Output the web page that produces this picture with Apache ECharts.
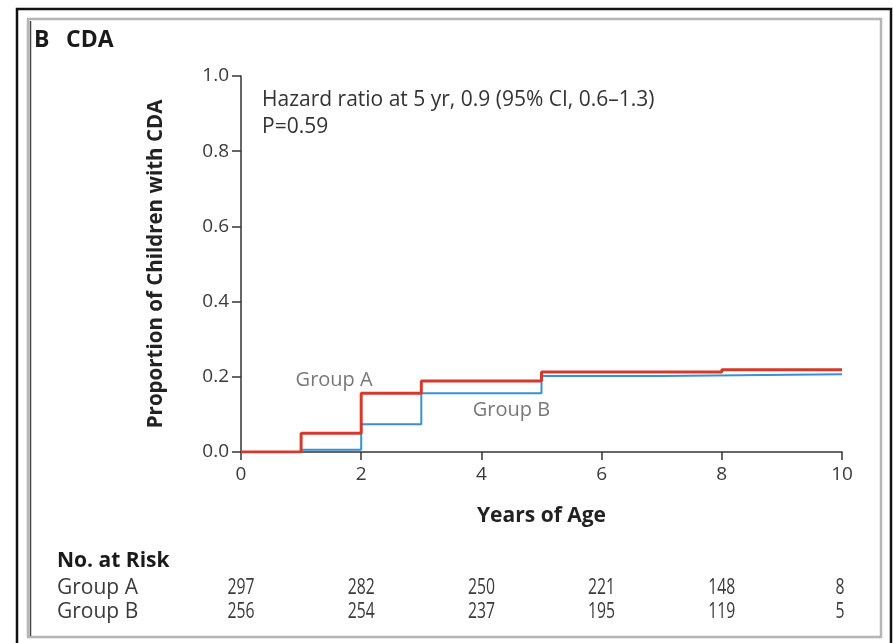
<!DOCTYPE html>
<html>
<head>
<meta charset="utf-8">
<script src="https://cdn.jsdelivr.net/npm/echarts@6/dist/echarts.min.js"></script>
<style>
html,body{margin:0;padding:0;background:#fff;}
#c{width:893px;height:643px;}
</style>
</head>
<body>
<div id="c"></div>
<script>
// ---- Data ----
const timesA = [0, 1, 2, 3, 5, 8, 10];
const valuesA = [0, 0.05, 0.156, 0.189, 0.213, 0.219, 0.219];
const timesB = [0, 1, 2, 3, 5, 7, 10];
const valuesB = [0, 0.006, 0.074, 0.156, 0.202, 0.207, 0.207];
const riskYears = [0, 2, 4, 6, 8, 10];
const riskA = [297, 282, 250, 221, 148, 8];
const riskB = [256, 254, 237, 195, 119, 5];
const groupNames = ['Group A', 'Group B'];
const yTicks = [0, 0.2, 0.4, 0.6, 0.8, 1.0];
const xTicks = [0, 2, 4, 6, 8, 10];

const FONT = '"Open Sans", "Noto Sans", sans-serif';
const RED = '#d33a2c';
const BLUE = '#3b8fd4';
const TXT = '#3a3a3a';

const chart = echarts.init(document.getElementById('c'), null, {renderer: 'canvas'});

function pairs(t, v) { return t.map((x, i) => [x, v[i]]); }

const option = {
  backgroundColor: '#ffffff',
  animation: false,
  grid: {left: 241, right: 51, top: 76, bottom: 191, containLabel: false},
  xAxis: {
    type: 'value', min: xTicks[0], max: xTicks[xTicks.length - 1], interval: 2,
    name: 'Years of Age', nameLocation: 'middle', nameGap: 54,
    nameTextStyle: {fontFamily: FONT, fontWeight: 'bold', fontSize: 21, color: '#222'},
    axisLine: {show: true, lineStyle: {color: '#333', width: 1.5}},
    axisTick: {show: true, length: 8, lineStyle: {color: '#333', width: 1.5}},
    axisLabel: {fontFamily: FONT, fontSize: 19, color: TXT, margin: 13},
    splitLine: {show: false}
  },
  yAxis: {
    type: 'value', min: yTicks[0], max: yTicks[yTicks.length - 1], interval: 0.2,
    name: 'Proportion of Children with CDA', nameLocation: 'middle', nameGap: 74,
    nameTextStyle: {fontFamily: FONT, fontWeight: 'bold', fontSize: 20.5, color: '#222'},
    axisLine: {show: true, lineStyle: {color: '#333', width: 1.5}},
    axisTick: {show: true, length: 9, lineStyle: {color: '#333', width: 1.5}},
    axisLabel: {fontFamily: FONT, fontSize: 19, color: TXT, margin: 12,
      formatter: v => v.toFixed(1)},
    splitLine: {show: false}
  },
  series: [
    {
      name: groupNames[1], type: 'line', step: 'end', symbol: 'none',
      data: pairs(timesB, valuesB),
      lineStyle: {color: BLUE, width: 2}, z: 2
    },
    {
      name: groupNames[0], type: 'line', step: 'end', symbol: 'none',
      data: pairs(timesA, valuesA),
      lineStyle: {color: RED, width: 3}, z: 3
    },
    {
      type: 'scatter', symbolSize: 0, silent: true,
      data: [
        {value: [1.55, 0.19], label: {formatter: groupNames[0]}},
        {value: [4.5, 0.11], label: {formatter: groupNames[1]}}
      ],
      label: {show: true, position: 'inside', fontFamily: FONT, fontSize: 20, color: '#555'}
    }
  ],
  graphic: []
};
chart.setOption(option);

// Build risk table & annotations using chart scales
const g = [];
// Frame
g.push({type: 'rect', shape: {x: 17, y: 9, width: 874, height: 645}, style: {fill: null, stroke: '#111', lineWidth: 2.5}, silent: true});
g.push({type: 'rect', shape: {x: 28, y: 19, width: 853, height: 618}, style: {fill: null, stroke: '#b5b5b5', lineWidth: 2.5}, silent: true});
g.push({type: 'line', shape: {x1: 30.5, y1: 21, x2: 30.5, y2: 636}, style: {stroke: '#444', lineWidth: 1.5}, silent: true});
// Panel title
g.push({type: 'text', x: 34, y: 40, style: {text: 'B', font: 'bold 23px ' + FONT, fill: '#1a1a1a', textVerticalAlign: 'middle'}});
g.push({type: 'text', x: 66, y: 40, style: {text: 'CDA', font: 'bold 23px ' + FONT, fill: '#1a1a1a', textVerticalAlign: 'middle'}});
// Annotation
g.push({type: 'text', x: 262, y: 100, style: {text: 'Hazard ratio at 5 yr, 0.9 (95% CI, 0.6\u20131.3)', font: '21px ' + FONT, fill: '#333', textVerticalAlign: 'middle'}});
g.push({type: 'text', x: 262, y: 127, style: {text: 'P=0.59', font: '21px ' + FONT, fill: '#333', textVerticalAlign: 'middle'}});
// Risk table
g.push({type: 'text', x: 57, y: 561, style: {text: 'No. at Risk', font: 'bold 21px ' + FONT, fill: '#1a1a1a', textVerticalAlign: 'middle'}});
const rows = [riskA, riskB];
const rowY = [588, 612];
rows.forEach((row, r) => {
  g.push({type: 'text', x: 57, y: rowY[r], style: {text: groupNames[r], font: '21px ' + FONT, fill: TXT, textVerticalAlign: 'middle'}});
  row.forEach((n, i) => {
    const px = chart.convertToPixel({gridIndex: 0}, [riskYears[i], 0])[0];
    g.push({type: 'text', x: px + (i === row.length - 1 ? -2 : 0), y: rowY[r], scaleX: 0.75,
      style: {text: String(n), font: '21px ' + FONT, fill: TXT, textAlign: 'center', textVerticalAlign: 'middle'}});
  });
});
chart.setOption({graphic: g});
</script>
</body>
</html>
